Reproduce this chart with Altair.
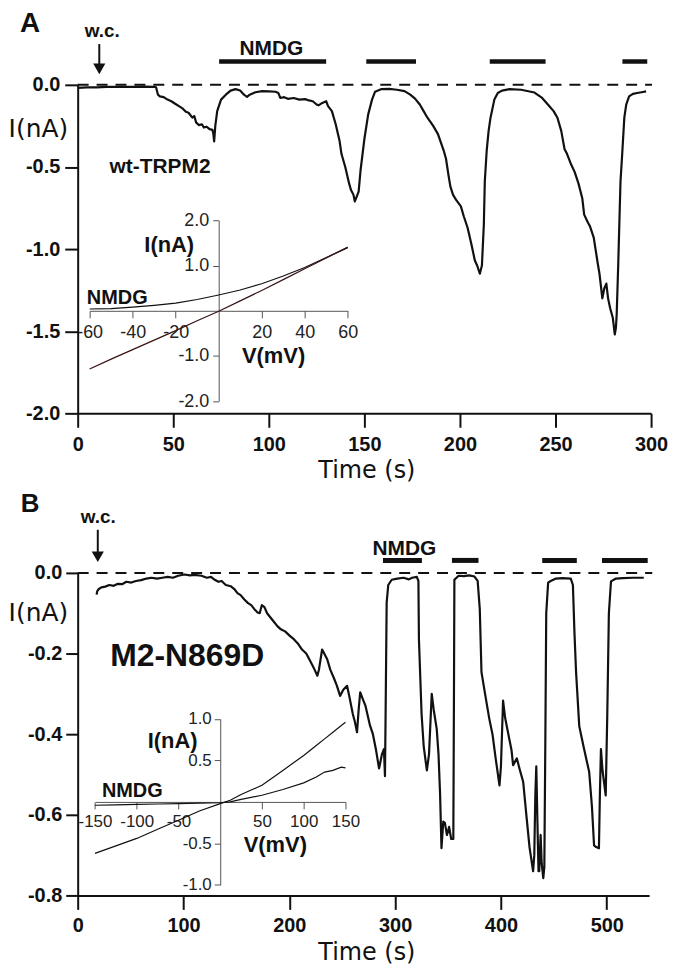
import altair as alt
import pandas as pd

# ---------------- data ----------------
A_time = [0, 5, 10, 15, 20, 25, 30, 35, 40, 41, 42, 43, 45, 47, 49, 51, 53, 55, 56.6, 58, 60, 61, 62, 63.5,
          65, 66, 67.5, 69, 70.5, 71, 71.4, 72, 73, 75, 77.5, 80, 82.6, 85, 87, 88.6, 90, 93, 96.5, 100,
          103.5, 105, 106, 108, 110, 113, 116, 119, 121, 123, 125, 126, 128, 130, 131, 133, 135, 137, 138,
          140, 141, 142, 143, 144.3, 145, 146, 147, 148, 150, 152, 154, 155.6, 159, 163, 167, 171, 174,
          176.5, 179, 181, 183, 186, 188.5, 190, 191.5, 192.7, 194, 195, 196.4, 198, 200.5, 202, 204, 206,
          207.8, 209, 210.4, 211.5, 212.5, 213, 214, 215, 216, 218, 219.8, 222, 226, 232, 239, 243, 246,
          249, 251, 253, 254.7, 256, 258, 260, 262, 264, 265, 267, 268, 270, 272, 273, 274.5, 275.5, 276.6,
          277.5, 278.6, 280, 281, 281.6, 282, 282.8, 283.5, 284, 285, 286, 287, 288.5, 290.5, 292.7, 295,
          297.4]
A_current = [-0.018, -0.016, -0.015, -0.013, -0.012, -0.013, -0.012, -0.011, -0.012, -0.015, -0.06, -0.07,
             -0.075, -0.09, -0.10, -0.115, -0.13, -0.145, -0.164, -0.17, -0.2, -0.19, -0.23, -0.245, -0.24,
             -0.26, -0.255, -0.27, -0.274, -0.30, -0.345, -0.25, -0.16, -0.09, -0.06, -0.035, -0.026,
             -0.035, -0.06, -0.073, -0.06, -0.045, -0.038, -0.04, -0.042, -0.05, -0.08, -0.075, -0.085,
             -0.08, -0.09, -0.087, -0.095, -0.10, -0.12, -0.125, -0.11, -0.10, -0.13, -0.16, -0.24, -0.34,
             -0.42, -0.5, -0.55, -0.6, -0.64, -0.67, -0.71, -0.68, -0.65, -0.52, -0.33, -0.18, -0.09,
             -0.042, -0.026, -0.025, -0.03, -0.038, -0.06, -0.084, -0.12, -0.16, -0.2, -0.25, -0.30, -0.35,
             -0.40, -0.45, -0.55, -0.62, -0.67, -0.70, -0.74, -0.80, -0.87, -0.97, -1.07, -1.10, -1.15,
             -1.10, -0.85, -0.59, -0.40, -0.28, -0.2, -0.09, -0.05, -0.035, -0.026, -0.03, -0.047, -0.08,
             -0.12, -0.16, -0.2, -0.28, -0.39, -0.42, -0.48, -0.53, -0.60, -0.69, -0.79, -0.84, -0.86,
             -0.93, -1.08, -1.15, -1.30, -1.24, -1.21, -1.30, -1.36, -1.42, -1.52, -1.48, -1.40, -1.10,
             -0.80, -0.59, -0.40, -0.2, -0.12, -0.07, -0.055, -0.05, -0.045, -0.04]

B_time = [17.9, 18.5, 20, 22.4, 26, 30, 34, 38, 42, 46, 50.7, 55, 60, 65, 69.5, 75, 80, 85, 90, 95, 101,
          106, 110, 117, 122, 126, 129.5, 133, 136, 140, 144.6, 148, 151, 154, 157.5, 161, 164, 167, 170,
          172, 174, 176.5, 179, 182, 185, 188.7, 192, 196, 200, 204.5, 208, 212, 216, 220, 223, 226.5, 228,
          231, 233, 235.8, 238.7, 242, 245, 248, 251, 254.6, 257, 260, 262, 264, 265.5, 267, 269, 272,
          276.3, 279, 282, 284.8, 286, 287.5, 289.4, 290.4, 291, 292, 293.5, 296.8, 302, 308, 313, 316,
          320.5, 322, 322.5, 325, 327, 330, 332, 334.6, 336.5, 339.3, 341, 342.5, 343.8, 345.5, 347, 349,
          351, 353, 355, 355.6, 356, 360, 365, 370, 375, 378, 380, 381.6, 385, 389, 392, 395, 398.6, 400,
          402, 404, 407, 410, 411.5, 415, 418, 421, 424, 427, 430.4, 431.5, 432.5, 433.4, 434.5, 435.5,
          436.2, 437.5, 438.5, 440, 441, 442, 442.8, 444.6, 447, 452, 458, 466, 468, 469.5, 471, 474, 478,
          483.4, 486, 488, 490, 492.6, 493.5, 494.5, 496, 499, 500.5, 502, 504, 508.7, 515, 525, 535]
B_current = [-0.054, -0.045, -0.04, -0.036, -0.034, -0.03, -0.032, -0.027, -0.028, -0.022, -0.024, -0.02,
             -0.018, -0.014, -0.012, -0.014, -0.012, -0.01, -0.012, -0.007, -0.004, -0.006, -0.005, -0.007,
             -0.012, -0.01, -0.017, -0.022, -0.02, -0.03, -0.033, -0.04, -0.05, -0.055, -0.066, -0.075,
             -0.08, -0.09, -0.098, -0.1, -0.08, -0.085, -0.1, -0.11, -0.12, -0.132, -0.14, -0.145, -0.155,
             -0.165, -0.175, -0.19, -0.2, -0.22, -0.235, -0.255, -0.24, -0.19, -0.2, -0.214, -0.24, -0.26,
             -0.28, -0.305, -0.29, -0.28, -0.31, -0.35, -0.37, -0.395, -0.34, -0.296, -0.31, -0.33, -0.379,
             -0.40, -0.44, -0.485, -0.47, -0.45, -0.437, -0.504, -0.35, -0.074, -0.03, -0.017, -0.014,
             -0.012, -0.016, -0.012, -0.01, -0.02, -0.165, -0.35, -0.43, -0.49, -0.45, -0.30, -0.34, -0.387,
             -0.45, -0.55, -0.683, -0.617, -0.62, -0.65, -0.63, -0.66, -0.66, -0.3, -0.017, -0.007, -0.008,
             -0.006, -0.009, -0.02, -0.09, -0.246, -0.30, -0.362, -0.40, -0.46, -0.527, -0.48, -0.317, -0.36,
             -0.40, -0.44, -0.477, -0.46, -0.49, -0.518, -0.6, -0.68, -0.74, -0.70, -0.55, -0.48, -0.62,
             -0.74, -0.74, -0.65, -0.72, -0.757, -0.73, -0.40, -0.1, -0.024, -0.02, -0.014, -0.013, -0.014,
             -0.03, -0.15, -0.246, -0.38, -0.43, -0.494, -0.58, -0.676, -0.68, -0.683, -0.55, -0.437, -0.49,
             -0.552, -0.35, -0.1, -0.021, -0.014, -0.013, -0.012, -0.012]

# I-V insets
A_iv_v = [-60, -50, -40, -30, -20, -10, 0, 10, 20, 30, 40, 50, 60]
A_iv_ctrl = [-1.29, -1.07, -0.86, -0.65, -0.44, -0.22, -0.01, 0.22, 0.45, 0.69, 0.93, 1.17, 1.41]
A_iv_nmdg = [0.04, 0.05, 0.08, 0.12, 0.17, 0.25, 0.35, 0.46, 0.60, 0.77, 0.96, 1.18, 1.40]

B_iv_v = [-150, -125, -100, -75, -50, -25, 0, 12, 25, 50, 75, 100, 115, 125, 135, 145, 150]
B_iv_ctrl = [-0.62, -0.53, -0.44, -0.33, -0.22, -0.11, -0.02, 0.02, 0.09, 0.20, 0.38, 0.56, 0.68, 0.76,
             0.84, 0.92, 0.96]
B_iv_nmdg = [-0.04, -0.035, -0.03, -0.025, -0.02, -0.015, -0.01, 0.0, 0.03, 0.08, 0.15, 0.23, 0.30, 0.36,
             0.38, 0.42, 0.41]

# NMDG application bars (s)
A_nmdg_start = [74, 151, 215.6, 285]
A_nmdg_end = [130, 177, 244.8, 298]
B_nmdg_start = [288.5, 353.7, 439, 495.5]
B_nmdg_end = [325.3, 378.8, 471.7, 538.7]

# tick values
A_xticks = [0, 50, 100, 150, 200, 250, 300]
A_yticks = [0, -0.5, -1.0, -1.5, -2.0]
B_xticks = [0, 100, 200, 300, 400, 500]
B_yticks = [0, -0.2, -0.4, -0.6, -0.8]
A_iv_xticks = [-60, -40, -20, 20, 40, 60]
A_iv_yticks = [2, 1, -1, -2]
B_iv_xticks = [-150, -100, -50, 50, 100, 150]
B_iv_yticks = [1, 0.5, -0.5, -1]

# ---------------- styling ----------------
BOLD = "Liberation Sans"
THIN = "DejaVu Sans"
INK = "#111111"
GREY = "#555555"
FIX = "replace(datum.label, '\u2212', '-')"


def build_panel(c):
    xs = alt.Scale(domain=c["xdom"], nice=False, zero=False)
    ys = alt.Scale(domain=c["ydom"], nice=False, zero=False)
    x_axis = alt.Axis(values=c["xticks"], format="d", labelExpr=FIX, labelFlush=False, labelOverlap=False,
                      title="Time (s)", titleFont=THIN, titleFontSize=24, titleFontWeight="normal",
                      titleColor=INK, titleX=c["xtitle_x"], titleY=64, titleAlign="center",
                      titleBaseline="alphabetic", labelFont=BOLD, labelFontSize=20, labelFontWeight="bold",
                      labelColor=INK, labelPadding=c["xpad"], tickSize=c["xtick"], tickWidth=2,
                      tickColor=INK, domainWidth=2, domainColor=INK, grid=False)
    y_axis = alt.Axis(values=c["yticks"], format=".1f", labelExpr=FIX, labelOverlap=False,
                      title="I(nA)", titleFont=THIN, titleFontSize=25, titleFontWeight="normal",
                      titleColor=INK, titleAngle=0, titleX=-40, titleY=c["ytitle_y"], titleAlign="center",
                      titleBaseline="middle", labelFont=BOLD, labelFontSize=20, labelFontWeight="bold",
                      labelColor=INK, labelPadding=c["ypad"], tickSize=c["ytick"], tickWidth=2,
                      tickColor=INK, domainWidth=2, domainColor=INK, grid=False)

    def X(f):
        return alt.X(f, type="quantitative", scale=xs, axis=x_axis)

    def Y(f):
        return alt.Y(f, type="quantitative", scale=ys, axis=y_axis)

    trace = alt.Chart(pd.DataFrame({"t": c["time"], "i": c["cur"]})).mark_line(
        color=INK, strokeWidth=2.2, strokeJoin="round").encode(x=X("t"), y=Y("i"))
    zero = alt.Chart(pd.DataFrame({"t": [c["xdom"][0]], "t2": [c["zero_end"]], "i": [0]})).mark_rule(
        color=INK, strokeWidth=2, strokeDash=[11, 8]).encode(x=X("t"), x2=alt.X2("t2"), y=Y("i"))
    bars = alt.Chart(pd.DataFrame({"t": c["bar_s"], "t2": c["bar_e"], "i": [c["bar_y"]] * len(c["bar_s"])})
                     ).mark_rule(color=INK, strokeWidth=c["bar_w"]).encode(x=X("t"), x2=alt.X2("t2"), y=Y("i"))
    at, a1, a2, ah = c["arrow"]
    stem = alt.Chart(pd.DataFrame({"t": [at], "i": [a1], "i2": [a2]})).mark_rule(
        color=INK, strokeWidth=2).encode(x=X("t"), y=Y("i"), y2=alt.Y2("i2"))
    head = alt.Chart(pd.DataFrame({"t": [at], "i": [ah]})).mark_point(
        shape="triangle-down", filled=True, size=150, color=INK, opacity=1).encode(x=X("t"), y=Y("i"))
    layers = [trace, zero, bars, stem, head]
    for (tt, ii, label, size, align, font, weight) in c["texts"]:
        layers.append(alt.Chart(pd.DataFrame({"t": [tt], "i": [ii], "label": [label]})).mark_text(
            align=align, baseline="alphabetic", font=font, fontSize=size, fontWeight=weight, color=INK
        ).encode(x=X("t"), y=Y("i"), text="label:N"))
    main = alt.layer(*layers)

    # inset I-V plot, placed inside the panel through its own scale ranges
    vx0, vx1 = c["iv_xrange"]
    vy0, vy1 = c["iv_yrange"]
    ivxs = alt.Scale(domain=c["iv_xdom"], range=[vx0, vx1], nice=False, zero=False)
    ivys = alt.Scale(domain=c["iv_ydom"], range=[vy0, vy1], nice=False, zero=False)
    zero_px_y = (vy0 + vy1) / 2
    zero_px_x = (vx0 + vx1) / 2
    ivx_axis = alt.Axis(orient="bottom", offset=zero_px_y - c["height"], values=c["iv_xticks"], format="d",
                        labelExpr=FIX, labelFlush=False, labelOverlap=False, title=None, labelFont=BOLD,
                        labelFontSize=c["iv_lab"], labelFontWeight="normal", labelColor="#222222",
                        labelPadding=c["iv_xpad"], tickSize=7, tickWidth=1, tickColor=GREY,
                        domainWidth=1, domainColor=GREY, grid=False)
    ivy_axis = alt.Axis(orient="left", offset=-zero_px_x, values=c["iv_yticks"], format=".1f",
                        labelExpr=FIX, labelOverlap=False, title=None, labelFont=BOLD,
                        labelFontSize=c["iv_lab"], labelFontWeight="normal", labelColor="#222222",
                        labelPadding=c["iv_ypad"], tickSize=6, tickWidth=1, tickColor=GREY,
                        domainWidth=1, domainColor=GREY, grid=False)

    def VX(f):
        return alt.X(f, type="quantitative", scale=ivxs, axis=ivx_axis)

    def VY(f):
        return alt.Y(f, type="quantitative", scale=ivys, axis=ivy_axis)

    nmdg = alt.Chart(pd.DataFrame({"v": c["iv_v"], "i": c["iv_n"]})).mark_line(
        color=INK, strokeWidth=1.2).encode(x=VX("v"), y=VY("i"))
    ctrl = alt.Chart(pd.DataFrame({"v": c["iv_v"], "i": c["iv_c"]})).mark_line(
        color=c["ctrl_color"], strokeWidth=1.2).encode(x=VX("v"), y=VY("i"))
    ivl = [nmdg, ctrl]
    for (vv, ii, label, size, align) in c["iv_texts"]:
        ivl.append(alt.Chart(pd.DataFrame({"v": [vv], "i": [ii], "label": [label]})).mark_text(
            align=align, baseline="alphabetic", font=BOLD, fontSize=size, fontWeight="bold", color=INK
        ).encode(x=VX("v"), y=VY("i"), text="label:N"))
    inset = alt.layer(*ivl)

    return alt.layer(main, inset).resolve_scale(x="independent", y="independent").properties(
        width=c["width"], height=c["height"])


panel_a = build_panel(dict(
    time=A_time, cur=A_current, xdom=[0, 300], ydom=[-2.0, 0.0], xticks=A_xticks, yticks=A_yticks,
    width=576, height=330, xtitle_x=290, ytitle_y=44, xpad=7, ypad=5, xtick=14, ytick=13,
    zero_end=300.5, bar_s=A_nmdg_start, bar_e=A_nmdg_end, bar_y=0.142, bar_w=4.5,
    arrow=(11.3, 0.248, 0.12, 0.097),
    texts=[(-30.2, 0.321, "A", 28, "left", BOLD, "bold"),
           (12.8, 0.291, "w.c.", 19, "center", BOLD, "bold"),
           (101.3, 0.18, "NMDG", 21, "center", BOLD, "bold"),
           (16.7, -0.539, "wt-TRPM2", 21, "left", BOLD, "bold")],
    iv_v=A_iv_v, iv_c=A_iv_ctrl, iv_n=A_iv_nmdg, iv_xdom=[-60, 60], iv_ydom=[-2, 2],
    iv_xrange=[12, 271.3], iv_yrange=[317.7, 136.3], iv_xticks=A_iv_xticks, iv_yticks=A_iv_yticks,
    iv_lab=18, iv_xpad=6, iv_ypad=4, ctrl_color="#3a1212",
    iv_texts=[(-23, 1.30, "I(nA)", 22, "center"),
              (25.5, -1.16, "V(mV)", 22, "center"),
              (-61.3, 0.16, "NMDG", 20, "left")],
))

panel_b = build_panel(dict(
    time=B_time, cur=B_current, xdom=[0, 540], ydom=[-0.8, 0.0], xticks=B_xticks, yticks=B_yticks,
    width=574, height=324, xtitle_x=290, ytitle_y=40, xpad=6, ypad=4, xtick=14, ytick=12,
    zero_end=543, bar_s=B_nmdg_start, bar_e=B_nmdg_end, bar_y=0.031, bar_w=5,
    arrow=(19.0, 0.107, 0.052, 0.040),
    texts=[(-53.9, 0.151, "B", 26, "left", BOLD, "bold"),
           (19.5, 0.124, "w.c.", 19, "center", BOLD, "bold"),
           (308.7, 0.045, "NMDG", 21, "center", BOLD, "bold"),
           (30.8, -0.231, "M2-N869D", 32, "left", BOLD, "bold")],
    iv_v=B_iv_v, iv_c=B_iv_ctrl, iv_n=B_iv_nmdg, iv_xdom=[-150, 150], iv_ydom=[-1, 1],
    iv_xrange=[17.4, 269], iv_yrange=[313.4, 146.7], iv_xticks=B_iv_xticks, iv_yticks=B_iv_yticks,
    iv_lab=17, iv_xpad=5, iv_ypad=3, ctrl_color=INK,
    iv_texts=[(-57, 0.655, "I(nA)", 22, "center"),
              (66, -0.6, "V(mV)", 22, "center"),
              (-141.7, 0.06, "NMDG", 20, "left")],
))

chart = alt.vconcat(panel_a, panel_b, spacing=160.3, bounds="flush").properties(
    padding=0).configure_view(stroke=None)

chart.save("out.html", embed_options={"renderer": "svg", "actions": False})
